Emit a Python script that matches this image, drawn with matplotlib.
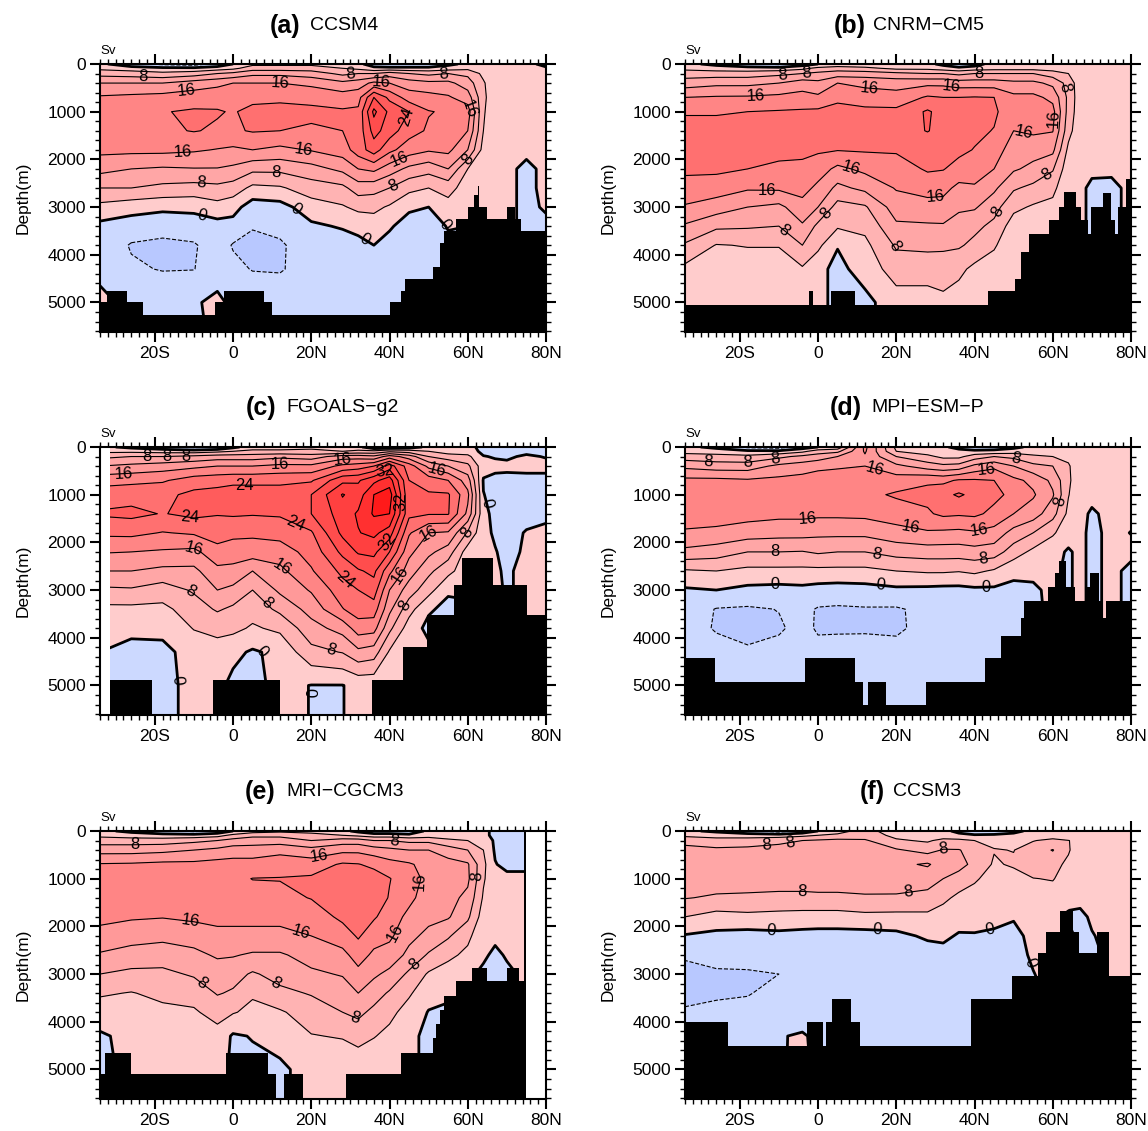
# Atlantic meridional overturning streamfunction, six models
import numpy as np
import matplotlib
matplotlib.use('Agg')
import matplotlib.pyplot as plt
from matplotlib.colors import ListedColormap, BoundaryNorm
from matplotlib.ticker import MultipleLocator

plt.rcParams['font.family'] = ['Liberation Sans', 'DejaVu Sans']

lats = [-34, -26, -18, -10, -4, 0, 5, 12, 20, 28, 32, 36, 40, 45, 50, 55, 60, 64, 67, 70, 75, 80]
depths = [0, 90, 200, 400, 700, 1000, 1400, 1800, 2200, 2600, 3000, 3400, 3800, 4300, 5000, 5620]
levels = [-8, -4, 0, 4, 8, 12, 16, 20, 24, 28, 32, 36, 40]
colors = ['#8fa8ff', '#b8c8ff', '#ccd9ff', '#ffcccc', '#ffb3b3', '#ffa6a6', '#ff9999', '#ff8585',
          '#ff7070', '#ff5c5c', '#ff4d4d', '#ff4040', '#ff3030', '#ff1a1a']

# each row is one latitude, top to bottom in depth
field_a = [
    [1, 3, 6.5, 12, 16.5, 18, 18.5, 17, 13.3, 8, 2.8, -1, -1.5, -1, 1, 1],
    [-3, 2, 6, 12, 17, 19, 19, 17, 12, 8, 1.6, -2, -4.3, -3.5, -1, -1],
    [-5, 1, 5, 12, 17.5, 19.8, 19.3, 17, 11.5, 7, 1, -3, -4.6, -4.2, -1, -1],
    [-6, 1, 6, 14, 18, 20.5, 20.2, 16.5, 11.8, 6.5, 1, -2, -4.4, -4.1, -0.5, -1],
    [-3, 2, 8, 15, 18.5, 20.3, 19.5, 15.8, 11.8, 7, 2.5, -1.5, -2, -2, 1, 1],
    [0, 3, 9, 16, 18.5, 19.7, 19.5, 15.3, 11.2, 6.2, 1.5, -1.5, -4.3, -3, -1, -1],
    [3, 6, 11, 16, 19, 21, 20.3, 16, 9, 3, -2, -3.8, -4.8, -4.2, -1, -1],
    [3, 6, 11, 16, 19.5, 20.8, 20, 15, 9, 3.5, -1.5, -3, -4.5, -4.4, -1, -1],
    [3, 6, 10, 15, 19, 20.8, 19.5, 16.3, 10.5, 6, 2.2, -0.7, -2, -2, -1, -1],
    [2, 4, 7, 13, 18, 20.5, 20, 18, 13, 7, 3.6, 0.4, -2, -2, -1, -1],
    [1, 3, 8, 14, 18.5, 20.8, 21.5, 22, 16, 10, 5, 1, -1, -2, -1, -1],
    [-2, 1, 8, 17, 28, 33, 29.5, 26, 17, 9.5, 5, 2, 0, -1, -1, -1],
    [-3, 1, 10, 16, 23, 27, 26, 21, 14, 8, 3.5, 0.7, -2, -1, -1, -1],
    [-3, 1, 8, 14, 18, 24, 21.5, 18, 11, 5, 1, -2.5, -3, -2, -1, -1],
    [-3, 1, 7, 13, 17.5, 20.2, 19.5, 16.5, 9.5, 4, 0, -2, -2, -1, -1, -1],
    [-1, 2, 8, 13, 16.5, 19.5, 19.5, 17, 12, 5.5, 2.5, 0.3, -1, -1, -1, -1],
    [1, 3, 7, 10, 14, 18, 16, 12, 4, 2, 1, 0, -1, -1, -1, -1],
    [1, 1.5, 3, 4.5, 5, 4.5, 4, 2.5, 1, 1, 1, 1, 1, 1, 1, 1],
    [1, 1, 1, 1, 1, 1, 1, 1, 1, 1, 1, 1, 1, 1, 1, 1],
    [1, 1, 1, 1, 1, 1, 1, 1, 1, 1, 1, 1, 1, 1, 1, 1],
    [1, 1, 1, 1, 1, 1, 1, 1, -1, -1, -1, -1, -1, -1, -1, -1],
    [-1, 0.5, 1, 1, 1, 1, 1, 1, 1, 1, 0.5, -1, -1, -1, -1, -1],
]
field_b = [
    [1, 3, 6, 10, 16, 19.5, 22, 22, 20.8, 18.5, 15.6, 11.5, 7.5, 3, 1, 1],
    [-1, 2, 6, 11, 16.4, 19.5, 22, 22, 20.8, 18, 14, 8.8, 3.8, 1.5, 1, 1],
    [-3, 1.5, 6, 11, 16.5, 20, 22, 22, 20, 16.5, 12, 8.5, 4.2, 2, 1, 1],
    [-5, 1.5, 7, 12, 17, 20.3, 22, 21, 19.3, 16.7, 11, 8, 4.2, 2, 1, 1],
    [-2, 3, 8, 14, 17.5, 20.5, 22, 21, 19, 17.5, 14.5, 11.5, 8, 3.5, 1, 1],
    [0, 5, 9, 13, 16.8, 20.8, 22, 20.5, 18, 15, 12, 7, 5, 1, 1, 1],
    [1, 6, 10, 16, 19, 21.5, 22, 20.2, 15, 11, 6.5, 4.5, 0.2, -1, -1, -1],
    [1, 5, 10, 15, 18, 21, 22, 20.4, 17, 13, 7.5, 5, 3, 1.5, -1, -1],
    [1, 3, 9, 14.5, 17.5, 21, 22, 20.5, 18, 16.3, 14, 11.3, 8.5, 6, 2, 2],
    [1, 3, 8, 15, 20.5, 24.5, 24.2, 21, 20.5, 17.5, 14.5, 11.5, 9, 5.5, 2.5, 2],
    [-1, 2, 8, 15, 20, 22.5, 22.5, 21, 20.2, 17.2, 14.5, 11.6, 8.7, 6, 3, 2],
    [-3, 1, 7, 14, 20, 22.5, 22.5, 21, 18.5, 15, 13, 9.5, 8.5, 5, 2, 2],
    [-2, 2, 8, 14, 20.2, 22, 21, 19.8, 18, 15.5, 12.5, 9, 7, 3, 1, 1],
    [2, 2.5, 8, 14, 20, 20.8, 19.8, 18, 16, 12.8, 9.5, 7, 4.5, 2, 1, 1],
    [1, 2.5, 8, 13, 17, 17, 16, 14, 12.5, 8.5, 5, 2, 1, 1, 1, 1],
    [1, 2.5, 8, 13, 17, 17.5, 16.7, 13.5, 11, 7, 3.5, 1, 1, 1, 1, 1],
    [1, 2, 6, 11, 15, 17.3, 16.2, 13, 8.4, 5, 3, 1, 1, 1, 1, 1],
    [1, 1.5, 4, 6.5, 7, 6.5, 5.5, 3, 1.5, 1, 1, 1, 1, 1, 1, 1],
    [1, 1, 1, 1.5, 1.5, 1.5, 1, 1, 1, 1, 1, 1, 1, 1, 1, 1],
    [1, 1, 1, 1, 1, 1, 1, 1, 1, -1, -1, -1, -1, -1, -1, -1],
    [1, 1, 1, 1, 1, 1, 1, 1, 0.8, -1, -1, -1, -1, -1, -1, -1],
    [1, 1, 1, 1, 1, 1, 1, 1, 1, 1, 1, 1, 1, 1, 1, 1],
]
field_c = [
    [1, 3, 7, 12, 18.5, 22, 24.5, 20.8, 16.3, 12, 7.2, 3, 1, 0, -1, -1],
    [-1, 3, 8, 13, 19, 22.5, 25, 21, 16, 12, 7.5, 3, 0.8, -1, -2, -2],
    [-3, 2.5, 8, 14, 19.5, 23, 23.8, 19.8, 15.5, 11, 6, 3, 1, -1, -1, -1],
    [-5, 2, 9, 15, 22, 25, 25, 20.5, 15, 11, 8.5, 6, 4.2, 1.5, 1, 1],
    [-4, 3, 10, 16, 22.5, 25.5, 24.2, 22, 18.5, 15, 12, 8.5, 5, 2.5, 1, 1],
    [-1, 4, 10, 16, 23, 26, 24.5, 21, 18, 14.8, 11, 7.2, 5, 1, -1, -1],
    [2, 5, 10, 16, 23, 26, 24.3, 20.7, 18.2, 12, 8, 5.5, 3.5, -0.5, -1, -1],
    [2, 5, 11, 17, 23, 26, 24.5, 21.5, 18, 15, 12.8, 9, 4.8, 1, 1, 1],
    [3, 5, 10, 17, 23.5, 28, 28, 23.5, 21.5, 19.6, 16.4, 13.5, 10.5, 6.8, -0.1, -0.1],
    [1, 4, 14, 21, 31, 36.3, 34, 33, 29, 25, 22.3, 19.8, 13.5, 8.2, -0.1, -0.1],
    [1, 5, 14, 22, 31.5, 34, 36.5, 35.8, 32.5, 27.5, 24, 22, 18, 11, 1, 1],
    [-3, 5, 13, 24, 35, 40, 40.5, 37, 33, 29, 26, 22, 17.5, 10, 1, 1],
    [-3, 7, 18, 30, 38, 42, 40, 34, 28, 21, 16, 13, 9, 3.5, 1, 1],
    [-2, 6, 14, 22, 24, 24.5, 25, 20.5, 17, 14, 10, 5.5, 2, 1, 1, 1],
    [1, 4, 8, 15, 22, 24.5, 24.3, 16, 13, 9, 5.5, 0.5, -1, 1, 1, 1],
    [1, 2, 6, 12, 20, 24.5, 24.3, 15.5, 10, 5.2, 0.5, -1, -1, -1, -1, -1],
    [1, 2, 5, 9, 14, 17, 15, 7.5, 2, 1.5, 1, -1, -1, -1, -1, -1],
    [-1, -1, 0.2, 1.5, -0.3, 0.1, 1, 1, 1, 1, 1, 1, 1, 1, 1, 1],
    [-1, -1, -0.3, 1, -1, -1, -1, -0.5, 0.2, 0.5, 1, 1, 1, 1, 1, 1],
    [-1, -1, -0.5, 0.8, -1, -1, -1, -1, -1, -0.5, -0.5, 1, 1, 1, 1, 1],
    [-1, -0.8, 0.5, 1, -1, -1, -1, 0.2, 0.5, 1, 1, 1, 1, 1, 1, 1],
    [-1, -1, -0.2, 1, -1, -1, -1, 1, 1, 1, 1, 1, 1, 1, 1, 1],
]
field_d = [
    [1, 2.5, 6, 11, 17, 18.5, 18, 15.5, 11, 3.5, -0.5, -1.5, -1.5, -1, -1, -1],
    [-1, 2, 5.5, 10, 17, 18.5, 18, 15, 10, 4, 0, -4.2, -4.5, -2, -1, -1],
    [-5, 1, 5, 10, 16.5, 18.5, 17.5, 14, 8, 3, -1, -4.5, -4.7, -3.7, -1, -1],
    [-6, 1, 7, 13, 17, 18.5, 17, 13.5, 8, 3, -1.3, -3.9, -4.4, -3, -1, -1],
    [-2, 3, 9, 14, 17.5, 18.5, 17, 13.5, 7.8, 3, -1, -3, -3, -2.5, -1, -1],
    [0, 6, 10, 15, 18, 18.5, 16.8, 13, 8.5, 3, -1.5, -4.3, -4.4, -3, -1, -1],
    [1, 7, 12, 15.5, 18, 18.5, 16.8, 13, 8, 3, -1.8, -4.5, -4.5, -2.5, -1, -1],
    [17, 16.5, 15.5, 16, 18.5, 19, 17, 13, 8, 3, -1.5, -4.3, -4.3, -3, -1, -1],
    [3, 4, 8, 13, 18, 20.5, 18, 14.5, 9.5, 4, -0.8, -4.4, -4.5, -3, -1, -1],
    [1, 2, 5, 10, 19.5, 21, 19.5, 15.5, 10, 4.5, -1, -3, -3, -2, -1, -1],
    [0.5, 1.5, 3, 9, 19, 23, 20.8, 15.2, 10, 4.5, -1.2, -3, -3, -2, -1, -1],
    [-1, 1, 3, 9.5, 20.5, 24.5, 20.5, 15, 10, 4.2, -1.2, -2.5, -3, -2, -1, -1],
    [-3, 1, 6, 13, 20.5, 23, 20.8, 15.5, 10.5, 4.8, -0.8, -2, -3, -2, -1, -1],
    [-2, 1, 8, 15, 20, 21, 19, 14.5, 10, 3.5, -0.7, -2, -2, -1, -1, -1],
    [-1, 2, 7, 12, 17, 19, 16, 10.5, 6, 1, -1, -2, -2, -1, -1, -1],
    [1, 1.5, 5, 9, 15, 16.5, 14, 8, 3, 1, -0.7, -1, -1, -1, -1, -1],
    [1, 2, 4, 8, 11, 12.5, 9.5, 4.5, 1.5, 0.5, 1, 1, 1, 1, 1, 1],
    [1, 1, 3, 4.5, 4.8, 4.2, 3, 1.8, -0.5, -0.5, -0.5, 1, 1, 1, 1, 1],
    [1, 1, 1, 1, 1, 1, 1, 1, 1, 1, 1, 1, 1, 1, 1, 1],
    [1, 1, 1, 1, 1, 1, -0.5, -1, -1, -1, -1, -1, -1, -1, -1, -1],
    [1, 1, 1, 1, 1, 1, 1, 1, 1, 1, 1, 1, 1, 1, 1, 1],
    [1, 1, 1, 1, 1, 1, 1, -0.1, 1, -1, -1, -1, -1, -1, -1, -1],
]
field_e = [
    [1, 3, 6, 10.5, 16.3, 18, 18, 16.8, 15, 11.5, 8, 4.5, 2, -0.5, -1, -1],
    [-1, 2, 6, 10.5, 16.5, 18, 18, 16.5, 13.5, 10.5, 7, 3.8, 2.5, 1, 1, 1],
    [-3, 1.5, 6, 11, 17, 18.5, 18, 16.2, 13, 10, 7, 5, 3, 1.5, 1, 1],
    [-5, 1.5, 7, 12, 17, 18.5, 18, 16.8, 13.7, 11, 8.5, 5.5, 3.5, 1.5, 1, 1],
    [-3, 2.5, 8, 13, 17.5, 18.8, 18.5, 17, 15, 12.5, 10, 8.3, 5.5, 2.5, 1, 1],
    [0, 5, 9.5, 14, 17.5, 19, 18.5, 17, 15, 12.3, 9.5, 7.5, 4.3, -0.5, -0.5, -0.5],
    [2, 7, 10, 14, 17.5, 20.1, 18.5, 17, 15, 11.5, 7.5, 4.5, 3, 0.2, -1, -1],
    [3, 7, 10, 15, 18, 20.2, 18.7, 17, 15, 11.5, 9.5, 7, 3.5, 1, -0.5, -0.5],
    [3, 5, 8, 13.5, 18, 20.6, 20.2, 17.5, 16, 13.5, 11.3, 8.3, 6, 3.8, 1, 1],
    [1, 4, 10, 15, 20.5, 22, 21, 21, 17.8, 15, 12.3, 10, 8, 4.3, 1, 1],
    [-1, 3, 10, 15, 20.2, 22.5, 22, 21, 20.5, 17.5, 15, 12, 9, 5.5, 1, 1],
    [-3, 2, 8, 14, 19, 22, 22.5, 20.5, 17.5, 15.3, 12.7, 9.8, 7, 4.2, 1, 1],
    [-3, 2, 8, 13, 17.5, 20.2, 19.7, 18, 16.8, 14.3, 11, 7.5, 5, 3, 1, 1],
    [-3, 1, 7, 12, 16.5, 17.5, 17, 15, 13, 11, 7.2, 4.5, 2.5, 1, 1, 1],
    [1, 2, 7, 12, 14.5, 15, 14, 13, 11, 7.5, 3.5, 1.5, -0.2, -1, -1, -1],
    [1, 1.5, 5, 10, 13.5, 14.5, 13.3, 12.4, 8.5, 5, 2, 1, -1, -1, -1, -1],
    [1, 1, 4, 8, 12.5, 12.8, 11, 8.8, 5, 3, 1, 1, 1, 1, 1, 1],
    [1, 1, 2, 4, 5, 4.5, 3.5, 2, 1, 0.8, -1, -1, -1, -1, -1, -1],
    [-1, -1, -0.5, -0.5, 0.2, 1, 1, 1, 1, -1, -1, -1, -1, -1, -1, -1],
    [-1, -1, -1, -1, -1, 1, 1, 1, 1, 0.5, -1, -1, -1, -1, -1, -1],
    [-1, -1, -1, -1, -1, 1, 1, 1, 1, 1, 1, 1, 1, 1, 1, 1],
    [-1, -1, -1, -1, -1, 1, 1, 1, 1, 1, 1, 1, 1, 1, 1, 1],
]
field_f = [
    [1, 3, 7, 9, 10, 10, 8.2, 4, -0.3, -3.8, -4.5, -4.5, -3.8, -2, -1, -1],
    [-1, 3, 5, 9, 10, 10, 7.5, 2.5, -1, -3.5, -4.2, -4.3, -3.5, -2, -1, -1],
    [-3, 2, 6, 9, 10, 10, 7.3, 3, -1.5, -3, -4.3, -4.2, -3, -2, -1, -1],
    [-6, 2, 7, 9.5, 10, 10, 7, 2.7, -1, -2.5, -4, -3, -2.5, -0.3, -0.5, -0.5],
    [-3, 3, 8, 9.5, 10, 10, 7, 2.5, -1.3, -3, -3, -3, -2.5, 0.5, 1, 1],
    [0, 4, 8.5, 10, 10.5, 10.5, 7, 2.5, -1.5, -3, -3.9, -3, -2.5, -1, -1, -1],
    [2, 5, 9, 10, 10.5, 10.5, 7, 2.5, -1.5, -3, -3, -2.5, -2, -1, -1, -1],
    [6, 6, 8.5, 10, 11, 11, 7.3, 3, -1.5, -3, -3, -2.5, -2, -1, -1, -1],
    [1, 3, 4.5, 8.5, 11, 10, 7.5, 2.8, -1, -3, -3, -2, -1, -0.5, -1, -1],
    [1, 2, 3.5, 6.5, 12.5, 9.5, 6.9, 3, 0.6, -1.8, -2.5, -2, -1, -0.5, -1, -1],
    [1, 2, 5, 8.3, 10, 8, 5, 2, 0.6, -1, -2, -2, -1, -1, -1, -1],
    [-1, 1, 5, 8.2, 9.3, 6.5, 3, 1.3, -0.3, -1.8, -2, -2, -1, -1, -1, -1],
    [-3, 0.5, 4, 6.5, 7, 4.5, 2.5, 1, -0.2, -1.5, -2, -2, -1, -1, -1, -1],
    [-2, 0.5, 3, 4.2, 3.5, 2.5, 1.5, 0.5, -0.3, -1.5, -2, -2, -1, -1, -1, -1],
    [-1, 1, 2, 3.9, 4.5, 2.5, 1.5, 0.3, -1, -1, -1, -1, -1, -1, -1, -1],
    [1, 1, 3.8, 6, 6, 3.9, 2.5, 2, 1, 0.4, -0.1, -1, -1, -1, -1, -1],
    [1, 2, 5, 8.2, 5.5, 4.2, 2.5, 1, 1, 1, 1, 1, 1, 1, 1, 1],
    [1, 1, 4.1, 4.5, 3, 2.5, 1, -0.5, 1, 1, 1, 1, 1, 1, 1, 1],
    [1, 1, 3, 1, 1, 1, 1, -0.8, -1, -1, 1, 1, 1, 1, 1, 1],
    [1, 1, 1, 1, 1, 1, 1, 0.5, -0.2, -1, 1, 1, 1, 1, 1, 1],
    [1, 1, 1, 1, 1, 1, 1, 1, 1, 1, 1, 1, 1, 1, 1, 1],
    [1, 1, 1, 1, 1, 1, 1, 1, 1, 1, 1, 1, 1, 1, 1, 1],
]

# ocean floor as steps: edges (n+1) and floor depth (n)
floor_a_x = [-34, -32.3, -27, -23, -4.5, -2.3, 8, 10, 40, 43, 44, 51, 53, 54, 57, 60, 61.5, 62.5, 63, 65, 70, 72, 73.5, 80]
floor_a_d = [5000, 4755, 5000, 5260, 5000, 4755, 5000, 5260, 5000, 4755, 4505, 4250, 3750, 3500, 3250, 3000, 2750, 2550, 3000, 3250, 3000, 3250, 3500]
floor_b_x = [-34, -2.3, -1.2, 3.3, 9.5, 43.4, 50.3, 52, 53.9, 59, 61.5, 62.9, 66, 67.3, 69, 69.8, 72.9, 75, 76, 76.8, 78.8, 80]
floor_b_d = [5050, 4755, 5050, 4755, 5050, 4755, 4500, 3950, 3570, 3280, 3000, 2680, 3000, 3280, 3570, 3000, 2700, 3280, 3570, 3000, 2420]
floor_c_x = [-31.5, -20.6, -5, 11.9, 35.4, 43.5, 49.5, 56.5, 58.5, 66.4, 75.2, 80]
floor_c_d = [4890, 5620, 4890, 5620, 4890, 4190, 3520, 2900, 2330, 2900, 3520]
floor_d_x = [-34, -26.4, -3.3, 9.5, 11.5, 12.7, 17.5, 27.6, 42.6, 46.8, 51.8, 52.7, 58.7, 60.7, 61.7, 63.5, 65.6, 68.7, 69.6, 71.7, 72.8, 73.7, 80]
floor_d_d = [4430, 4930, 4430, 4930, 5420, 4930, 5420, 4930, 4430, 3970, 3580, 3230, 2930, 2650, 2400, 2930, 3230, 2930, 2650, 3230, 3580, 3230]
floor_e_x = [-34, -32.8, -26, -1.9, 8.9, 11, 13, 17.9, 29, 43, 51, 52, 53, 54, 57, 61, 65, 70, 73, 74.3, 75]
floor_e_d = [5100, 4650, 5100, 4650, 5100, 5620, 5100, 5620, 5100, 4650, 4350, 4050, 3750, 3450, 3150, 2880, 3150, 2880, 3150, 0]
floor_f_x = [-34, -23, -2.9, 1.2, 2, 3.7, 8.5, 10.7, 39.2, 49.6, 56.3, 58.3, 61.9, 65.2, 66.8, 71.2, 74.3, 80]
floor_f_d = [4000, 4500, 4000, 4500, 4000, 3520, 4000, 4500, 3520, 3040, 2560, 2110, 1670, 2110, 2560, 2110, 3040]

labels_a = [(-23, 280), (-8, 2450), (11, 2250), (30, 250), (41, 2550), (54, 320), (60, 2000), (-12, 520), (12, 380),
            (-13, 1780), (18, 1780), (38, 370), (42, 1900), (60, 950), (43, 1050), (-8, 3150), (15, 3170), (34, 3650), (53, 3450)]
labels_b = [(-9, 280), (-3, 250), (41, 270), (63, 500), (-9, 3500), (1, 3050), (19, 3850), (45, 3050), (58, 2270),
            (-16, 680), (13, 570), (34, 530), (-13, 2550), (8, 2300), (30, 2830), (53, 1300), (61, 1150)]
labels_c = [(-22, 280), (-17, 280), (-12, 260), (-11, 3050), (8, 3320), (26, 3960), (44, 3340), (60, 1820), (-28, 550),
            (12, 370), (28, 260), (52, 550), (-10, 2150), (13, 2480), (43, 2700), (49, 1750), (3, 850), (-11, 1490),
            (16, 1600), (45, 1150), (29, 2750), (39, 550), (40, 2030), (-14.5, 4900), (8, 4150), (19.5, 5150), (65, 1190)]
labels_d = [(-28, 260), (-18, 320), (-11, 280), (50, 400), (-11, 2170), (15.5, 1970), (42, 2220), (62.5, 1150), (15, 350),
            (43, 450), (-2.5, 1530), (24, 1570), (41, 1680), (-11, 2780), (16, 2800), (43, 2940)]
labels_e = [(-25, 300), (41, 350), (-8, 3200), (11, 3170), (31, 3950), (47, 2860), (63, 950), (22, 470), (47, 1050),
            (-11, 1930), (17, 2240), (43, 2200)]
labels_f = [(-13, 350), (-7, 260), (32, 370), (-4, 1150), (23, 1180), (-12, 2030), (15, 2080), (44, 2050), (55, 2750)]

panels = [
    ('(a)', 'CCSM4', field_a, floor_a_x, floor_a_d, labels_a, 100, 64, 300, 310, 26),
    ('(b)', 'CNRM\u2212CM5', field_b, floor_b_x, floor_b_d, labels_b, 685, 64, 866, 873, 26),
    ('(c)', 'FGOALS\u2212g2', field_c, floor_c_x, floor_c_d, labels_c, 100, 447, 276, 286, 408),
    ('(d)', 'MPI\u2212ESM\u2212P', field_d, floor_d_x, floor_d_d, labels_d, 685, 447, 862, 871, 408),
    ('(e)', 'MRI\u2212CGCM3', field_e, floor_e_x, floor_e_d, labels_e, 100, 831, 276, 286, 792),
    ('(f)', 'CCSM3', field_f, floor_f_x, floor_f_d, labels_f, 685, 831, 885, 893, 792),
]

W, H = 1148, 1131
fig = plt.figure(figsize=(W / 100, H / 100), dpi=100)
cmap = ListedColormap(colors[1:-1])
cmap.set_under(colors[0])
cmap.set_over(colors[-1])
norm = BoundaryNorm(levels, cmap.N)

for tag, name, field, fx, fd, lab, left, top, tag_x, name_x, title_y in panels:
    ax = fig.add_axes([left / W, 1 - (top + 268) / H, 446 / W, 268 / H])
    z = np.array(field).T
    ax.contourf(lats, depths, z, levels=levels, cmap=cmap, norm=norm, extend='both')
    ax.contour(lats, depths, z, levels=levels, colors='k',
               linewidths=[2.0 if lv == 0 else 0.8 for lv in levels],
               linestyles=['--' if lv < 0 else '-' for lv in levels])
    ax.set_xlim(-34, 80)
    ax.set_ylim(5620, 0)

    # labels go on a hidden second set of lines, every 8 Sv
    lab_levels = [lv for lv in [0, 8, 16, 24, 32] if lv < z.max()]
    cs = ax.contour(lats, depths, z, levels=lab_levels, colors='k', linewidths=0.01)
    ax.clabel(cs, fmt='%d', fontsize=12, inline=False, manual=lab)

    # ocean floor above the field
    ax.fill_between(fx, fd + [fd[-1]], 5620, step='post', color='k', lw=0, zorder=5)
    if tag == '(c)':
        ax.axvspan(-34, -31.5, color='w', lw=0, zorder=6)
    if tag == '(e)':
        ax.axvspan(75, 80, color='w', lw=0, zorder=6)

    ax.set_xticks([-20, 0, 20, 40, 60, 80])
    ax.set_xticklabels(['20S', '0', '20N', '40N', '60N', '80N'])
    ax.set_yticks([0, 1000, 2000, 3000, 4000, 5000])
    ax.xaxis.set_minor_locator(MultipleLocator(2))
    ax.yaxis.set_minor_locator(MultipleLocator(200))
    ax.tick_params(which='major', direction='out', length=7, width=1.5, labelsize=12.5, top=True, right=True, pad=3)
    ax.tick_params(which='minor', direction='out', length=3.5, width=1.0, top=True, right=True)
    for s in ax.spines.values():
        s.set_linewidth(1.5)
        s.set_zorder(7)
    ax.set_ylabel('Depth(m)', fontsize=12.5, labelpad=12)
    ax.text(0, 1.027, 'Sv', transform=ax.transAxes, fontsize=9.5, ha='left', va='bottom')
    fig.text(tag_x / W, 1 - title_y / H, tag, fontsize=18, fontweight='bold', ha='right', va='center')
    fig.text(name_x / W, 1 - title_y / H, name, fontsize=14, ha='left', va='center')

fig.savefig('out.png', dpi=100)
